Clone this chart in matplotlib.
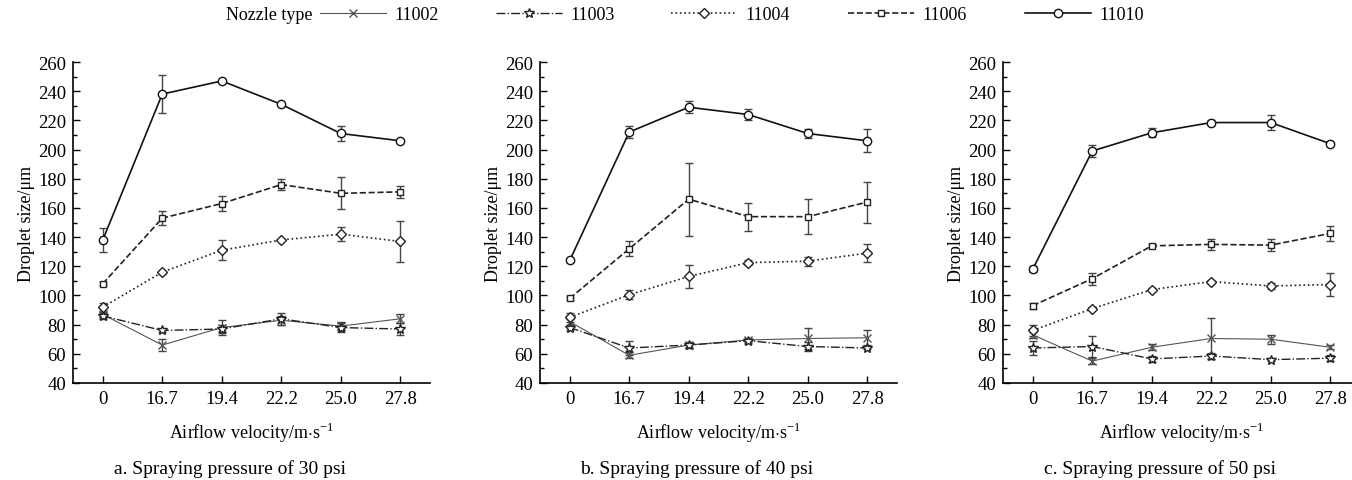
import matplotlib.pyplot as plt
from matplotlib.lines import Line2D
from matplotlib.ticker import MultipleLocator

plt.rcParams['font.family'] = ['Liberation Serif', 'DejaVu Serif']
plt.rcParams['mathtext.fontset'] = 'custom'
plt.rcParams['mathtext.rm'] = 'Liberation Serif'

velocity = ['0', '16.7', '19.4', '22.2', '25.0', '27.8']
nozzles = ['11002', '11003', '11004', '11006', '11010']
panel_titles = ['a. Spraying pressure of 30 psi',
                'b. Spraying pressure of 40 psi',
                'c. Spraying pressure of 50 psi']

# droplet size (um), one row per nozzle, order as in `nozzles`
size_30 = [[87, 66, 78, 83, 79, 84],
           [86, 76, 77, 84, 78, 77],
           [92, 116, 131, 138, 142, 137],
           [108, 153, 163, 176, 170, 171],
           [138, 238, 247, 231, 211, 206]]
err_30 = [[2, 4, 5, 3, 3, 3],
          [2, 1, 3, 4, 3, 4],
          [3, 1, 7, 1, 5, 14],
          [1, 5, 5, 4, 11, 4],
          [8, 13, 1, 1, 5, 1]]

size_40 = [[82, 59, 66, 69.5, 70.5, 71],
           [78, 64, 66, 69, 65, 64],
           [85, 100.5, 113, 122.5, 123.5, 129],
           [98, 132, 166, 154, 154, 164],
           [124, 212, 229, 224, 211, 206]]
err_40 = [[2, 2, 2, 1, 7, 5],
          [2, 5, 1, 1, 3, 1],
          [3, 3, 8, 1.5, 3, 6],
          [1, 5, 25, 9.5, 12, 14],
          [1, 4, 4, 4, 3, 8]]

size_50 = [[73, 55, 64.5, 70.5, 70, 64.5],
           [64, 65, 56.5, 58.5, 56, 57],
           [76, 91, 104, 109.5, 106.5, 107.5],
           [93, 111.5, 134, 135, 134.5, 142.5],
           [118, 199, 211.5, 218.5, 218.5, 204]]
err_50 = [[2, 2, 2, 14, 3, 1.5],
          [5, 7, 2, 2, 1, 2],
          [4, 1, 1, 1, 2, 8],
          [2, 4, 1, 4, 4, 5],
          [2, 4, 3, 2, 5, 1]]

styles = {
    '11002': dict(color='#555555', ls='-', lw=0.8, marker='x', ms=6, mfc='none'),
    '11003': dict(color='#222222', ls='-.', lw=1.0, marker='*', ms=7, mfc='white'),
    '11004': dict(color='#222222', ls=':', lw=1.2, marker='D', ms=5, mfc='white'),
    '11006': dict(color='#222222', ls='--', lw=1.2, marker='s', ms=5, mfc='white'),
    '11010': dict(color='#111111', ls='-', lw=1.2, marker='o', ms=6, mfc='white'),
}

tick_fs = 13.5
label_fs = 13
title_fs = 14
leg_fs = 13
W, H = 1352, 481
fig = plt.figure(figsize=(W / 100, H / 100), dpi=100)

lefts = [73, 540, 1003]
width = 357
bottom, top = 384, 63

for i, (sizes, errs) in enumerate([(size_30, err_30), (size_40, err_40), (size_50, err_50)]):
    ax = fig.add_axes([lefts[i] / W, 1 - bottom / H, width / W, (bottom - top) / H])
    x = range(len(velocity))
    for name, y, e in zip(nozzles, sizes, errs):
        st = styles[name]
        ax.errorbar(x, y, yerr=e, color=st['color'], ls=st['ls'], lw=st['lw'],
                    marker=st['marker'], ms=st['ms'], mfc=st['mfc'], mec=st['color'],
                    mew=1.0, ecolor='#444444', elinewidth=1.0, capsize=3, capthick=1.0)
    ax.set_xlim(-0.5, 5.5)
    ax.set_ylim(40, 260)
    ax.set_xticks(list(x))
    ax.set_xticklabels(velocity)
    ax.yaxis.set_major_locator(MultipleLocator(20))
    ax.yaxis.set_minor_locator(MultipleLocator(10))
    ax.tick_params(direction='in', labelsize=tick_fs, length=5, width=1.0, pad=5)
    ax.tick_params(which='minor', direction='in', length=3, width=1.0)
    ax.spines['top'].set_visible(False)
    ax.spines['right'].set_visible(False)
    for s in ['left', 'bottom']:
        ax.spines[s].set_linewidth(1.2)
    ax.set_ylabel('Droplet size/μm', fontsize=label_fs, labelpad=2)
    ax.set_xlabel(r'Airflow velocity/m$\cdot$s$^{-1}$', fontsize=label_fs, labelpad=9)
    cx = (lefts[i] + 157) / W
    fig.text(cx, 1 - 469 / H, panel_titles[i], ha='center', va='center', fontsize=title_fs)

# legend across the top
leg_y = 1 - 16 / H
fig.text(313 / W, leg_y, 'Nozzle type', ha='right', va='center', fontsize=leg_fs)
leg_x = [320, 496, 671, 848, 1025]
for name, lx in zip(nozzles, leg_x):
    st = styles[name]
    h = Line2D([], [], color=st['color'], ls=st['ls'], lw=st['lw'], marker=st['marker'],
               ms=st['ms'], mfc=st['mfc'], mec=st['color'])
    fig.legend([h], [name], loc='center left', bbox_to_anchor=(lx / W, leg_y),
               frameon=False, fontsize=leg_fs, handlelength=3.65, handletextpad=0.45,
               borderpad=0, borderaxespad=0)

fig.savefig('out.png', dpi=100)
